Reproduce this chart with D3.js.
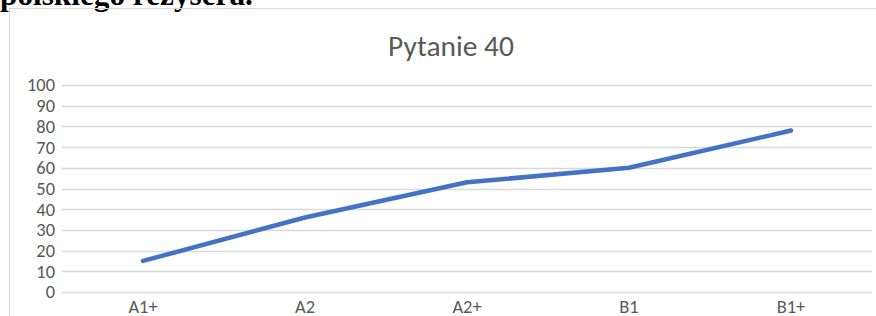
<!DOCTYPE html>
<html>
<head>
<meta charset="utf-8">
<script src="https://cdn.jsdelivr.net/npm/d3@7"></script>
<style>
  body { margin: 0; background: #fff; }
  svg { display: block; }
</style>
</head>
<body>
<svg id="chart" width="876" height="316"></svg>
<script>
// data
var categories = ["A1+", "A2", "A2+", "B1", "B1+"];
var values = [15, 36, 53, 60, 78];
var yTicks = [0, 10, 20, 30, 40, 50, 60, 70, 80, 90, 100];
var title = "Pytanie 40";

var svg = d3.select("#chart");
var width = +svg.attr("width"), height = +svg.attr("height");
var font = "Carlito, Lato, 'Open Sans', sans-serif";

// scale a text's font size so it takes up the given width
function fitWidth(sel, w) {
    sel.attr("font-size", 100);
    var len = sel.node().getComputedTextLength();
    var fs = 100 * w / len;
    sel.attr("font-size", fs);
    return fs;
}

// cut-off paragraph text above the chart
var para = svg.append("text")
   .attr("x", 0)
   .attr("y", 5)
   .attr("font-family", "'Liberation Serif', 'Times New Roman', serif")
   .attr("font-weight", "bold")
   .attr("fill", "#000")
   .text("polskiego reżysera.");
fitWidth(para, 253);

// chart frame
svg.append("rect")
   .attr("x", 9.5).attr("y", 8.5)
   .attr("width", 870).attr("height", 320)
   .attr("fill", "none")
   .attr("stroke", "#d9d9d9");

var margin = {left: 62, right: 4, top: 85, bottom: 24};

var x = d3.scaleBand()
          .domain(categories)
          .range([margin.left, width - margin.right]);

var y = d3.scaleLinear()
          .domain([0, 100])
          .range([height - margin.bottom, margin.top]);

// gridlines
svg.append("g")
   .selectAll("line")
   .data(yTicks)
   .enter().append("line")
   .attr("x1", margin.left)
   .attr("x2", width - margin.right)
   .attr("y1", function(d) { return Math.round(y(d)) + 0.5; })
   .attr("y2", function(d) { return Math.round(y(d)) + 0.5; })
   .attr("stroke", "#d9d9d9")
   .attr("stroke-width", 1.3);

// size of the tick labels, taken from the width of "100"
var probe = svg.append("text").attr("font-family", font).text("100");
var tickSize = fitWidth(probe, 28);
probe.remove();

// y labels
var yAxis = d3.axisLeft(y).tickValues(yTicks).tickSize(0).tickPadding(7);
var gy = svg.append("g")
   .attr("transform", "translate(" + margin.left + ",0)")
   .call(yAxis);
gy.select(".domain").remove();
gy.selectAll("text")
  .attr("font-family", font)
  .attr("font-size", tickSize)
  .attr("fill", "#595959");

// x labels
var xAxis = d3.axisBottom(x).tickSize(0);
var gx = svg.append("g")
   .attr("transform", "translate(0," + (height - margin.bottom) + ")")
   .call(xAxis);
gx.select(".domain").remove();
gx.selectAll("text")
  .attr("dy", null)
  .attr("y", 21)
  .attr("font-family", font)
  .attr("font-size", tickSize)
  .attr("fill", "#595959");

// line
var line = d3.line()
             .x(function(d, i) { return x(categories[i]) + x.bandwidth() / 2; })
             .y(function(d) { return y(d); });

svg.append("path")
   .datum(values)
   .attr("d", line)
   .attr("fill", "none")
   .attr("stroke", "#4472c4")
   .attr("stroke-width", 4.5)
   .attr("stroke-linecap", "round")
   .attr("stroke-linejoin", "round");

// title
var t = svg.append("text")
   .attr("x", 451)
   .attr("y", 56)
   .attr("text-anchor", "middle")
   .attr("font-family", font)
   .attr("fill", "#595959")
   .text(title);
fitWidth(t, 126);
</script>
</body>
</html>
